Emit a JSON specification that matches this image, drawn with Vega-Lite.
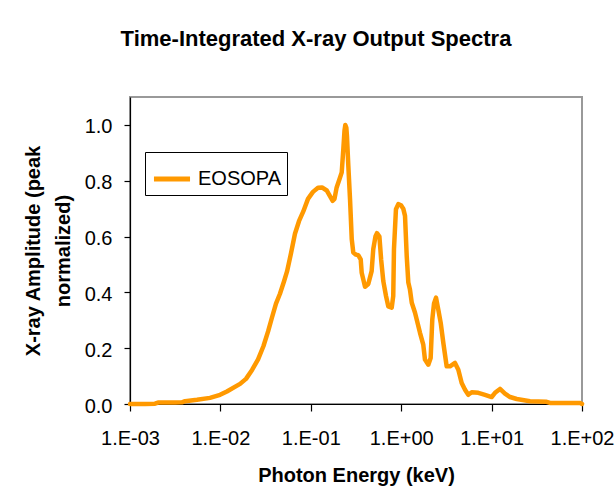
{
  "$schema": "https://vega.github.io/schema/vega-lite/v6.json",
  "width": 452,
  "height": 307,
  "autosize": {"type": "none"},
  "padding": {"left": 130, "top": 97, "right": 34, "bottom": 95},
  "background": "white",
  "title": {
    "text": "Time-Integrated X-ray Output Spectra",
    "font": "Liberation Sans",
    "fontSize": 22,
    "fontWeight": "bold",
    "color": "black",
    "anchor": "middle",
    "dx": -40,
    "offset": 46
  },
  "config": {
    "font": "Liberation Sans",
    "view": {"stroke": "#999999", "strokeWidth": 2},
    "axis": {
      "grid": false,
      "domainColor": "black",
      "domainWidth": 1.2,
      "tickColor": "black",
      "tickWidth": 1.2,
      "labelFont": "Liberation Sans",
      "labelFontSize": 20,
      "labelColor": "black",
      "titleFont": "Liberation Sans",
      "titleFontSize": 20,
      "titleFontWeight": "bold",
      "titleColor": "black"
    }
  },
  "data": {
    "values": [
      {"e": 0.001, "a": 0.0},
      {"e": 0.001466, "a": 0.0},
      {"e": 0.001892, "a": 0.001},
      {"e": 0.00204, "a": 0.005},
      {"e": 0.00315, "a": 0.005},
      {"e": 0.00376, "a": 0.006},
      {"e": 0.00406, "a": 0.01},
      {"e": 0.00551, "a": 0.015},
      {"e": 0.00767, "a": 0.022},
      {"e": 0.00991, "a": 0.033},
      {"e": 0.0118, "a": 0.045},
      {"e": 0.0165, "a": 0.072},
      {"e": 0.0192, "a": 0.09},
      {"e": 0.0224, "a": 0.122},
      {"e": 0.0261, "a": 0.16},
      {"e": 0.0299, "a": 0.207},
      {"e": 0.0337, "a": 0.26},
      {"e": 0.0372, "a": 0.31},
      {"e": 0.0412, "a": 0.36},
      {"e": 0.0456, "a": 0.395},
      {"e": 0.0506, "a": 0.44},
      {"e": 0.0546, "a": 0.475},
      {"e": 0.0604, "a": 0.54},
      {"e": 0.0668, "a": 0.61},
      {"e": 0.074, "a": 0.655},
      {"e": 0.0826, "a": 0.69},
      {"e": 0.0931, "a": 0.735},
      {"e": 0.1057, "a": 0.76},
      {"e": 0.1202, "a": 0.775},
      {"e": 0.133, "a": 0.776},
      {"e": 0.15, "a": 0.765},
      {"e": 0.1629, "a": 0.745},
      {"e": 0.1746, "a": 0.728},
      {"e": 0.1828, "a": 0.735},
      {"e": 0.1932, "a": 0.776},
      {"e": 0.2075, "a": 0.805},
      {"e": 0.2198, "a": 0.83},
      {"e": 0.2291, "a": 0.914},
      {"e": 0.236, "a": 0.98},
      {"e": 0.241, "a": 1.0},
      {"e": 0.2472, "a": 0.99},
      {"e": 0.2512, "a": 0.96},
      {"e": 0.26, "a": 0.854},
      {"e": 0.2716, "a": 0.734},
      {"e": 0.2838, "a": 0.59},
      {"e": 0.2951, "a": 0.543},
      {"e": 0.3162, "a": 0.535},
      {"e": 0.335, "a": 0.533},
      {"e": 0.3565, "a": 0.518},
      {"e": 0.3656, "a": 0.47},
      {"e": 0.3981, "a": 0.42},
      {"e": 0.4325, "a": 0.43},
      {"e": 0.471, "a": 0.476},
      {"e": 0.4909, "a": 0.555},
      {"e": 0.5188, "a": 0.6},
      {"e": 0.5395, "a": 0.612},
      {"e": 0.5741, "a": 0.6},
      {"e": 0.5998, "a": 0.518},
      {"e": 0.6339, "a": 0.44},
      {"e": 0.6792, "a": 0.387},
      {"e": 0.7194, "a": 0.35},
      {"e": 0.7852, "a": 0.345},
      {"e": 0.8166, "a": 0.387},
      {"e": 0.8318, "a": 0.555},
      {"e": 0.875, "a": 0.698},
      {"e": 0.929, "a": 0.716},
      {"e": 0.9954, "a": 0.712},
      {"e": 1.054, "a": 0.7},
      {"e": 1.102, "a": 0.674},
      {"e": 1.151, "a": 0.53},
      {"e": 1.199, "a": 0.435},
      {"e": 1.25, "a": 0.41},
      {"e": 1.309, "a": 0.363},
      {"e": 1.422, "a": 0.327},
      {"e": 1.614, "a": 0.255},
      {"e": 1.754, "a": 0.213},
      {"e": 1.832, "a": 0.159},
      {"e": 1.995, "a": 0.141},
      {"e": 2.118, "a": 0.165},
      {"e": 2.208, "a": 0.303},
      {"e": 2.307, "a": 0.36},
      {"e": 2.427, "a": 0.381},
      {"e": 2.57, "a": 0.339},
      {"e": 2.735, "a": 0.291},
      {"e": 2.924, "a": 0.219},
      {"e": 3.184, "a": 0.135},
      {"e": 3.467, "a": 0.135},
      {"e": 3.936, "a": 0.147},
      {"e": 4.285, "a": 0.123},
      {"e": 4.667, "a": 0.075},
      {"e": 5.082, "a": 0.051},
      {"e": 5.521, "a": 0.033},
      {"e": 6.026, "a": 0.042},
      {"e": 7.129, "a": 0.04},
      {"e": 8.453, "a": 0.033},
      {"e": 10.02, "a": 0.025},
      {"e": 10.91, "a": 0.04},
      {"e": 12.39, "a": 0.054},
      {"e": 14.06, "a": 0.037},
      {"e": 16.0, "a": 0.025},
      {"e": 18.97, "a": 0.018},
      {"e": 26.61, "a": 0.01},
      {"e": 40.64, "a": 0.008},
      {"e": 44.26, "a": 0.004},
      {"e": 95.06, "a": 0.004},
      {"e": 100, "a": 0.0}
    ]
  },
  "mark": {"type": "line", "strokeWidth": 4.5, "strokeJoin": "round", "strokeCap": "round", "clip": false},
  "encoding": {
    "x": {
      "field": "e",
      "type": "quantitative",
      "scale": {"type": "log", "domain": [0.001, 100], "nice": false},
      "axis": {
        "title": "Photon Energy (keV)",
        "values": [0.001, 0.01, 0.1, 1, 10, 100],
        "labelExpr": "'1.E' + (datum.value >= 1 ? '+' : '-') + '0' + abs(round(log(datum.value) / LN10))",
        "tickSize": 7,
        "labelPadding": 17,
        "labelFlush": false,
        "labelOverlap": false,
        "titleY": 77,
        "titleBaseline": "alphabetic"
      }
    },
    "y": {
      "field": "a",
      "type": "quantitative",
      "scale": {"domain": [0, 1.1], "nice": false},
      "axis": {
        "title": ["X-ray Amplitude (peak", "normalized)"],
        "values": [0, 0.2, 0.4, 0.6, 0.8, 1.0],
        "format": ".1f",
        "tickSize": 6,
        "labelPadding": 12,
        "labelOffset": 2,
        "labelFlush": false,
        "titleAngle": -90,
        "titleAlign": "center",
        "titleBaseline": "alphabetic",
        "titleX": -91,
        "titleY": 153.5,
        "titleLineHeight": 30
      }
    },
    "color": {
      "datum": "EOSOPA",
      "type": "nominal",
      "scale": {"range": ["#FF9900"]},
      "legend": {
        "title": null,
        "orient": "none",
        "legendX": 15,
        "legendY": 55,
        "padding": 6,
        "strokeColor": "black",
        "fillColor": "white",
        "symbolType": "stroke",
        "symbolSize": 1300,
        "symbolStrokeWidth": 5,
        "labelFont": "Liberation Sans",
        "labelFontSize": 20,
        "labelColor": "black",
        "labelOffset": 5
      }
    }
  }
}
